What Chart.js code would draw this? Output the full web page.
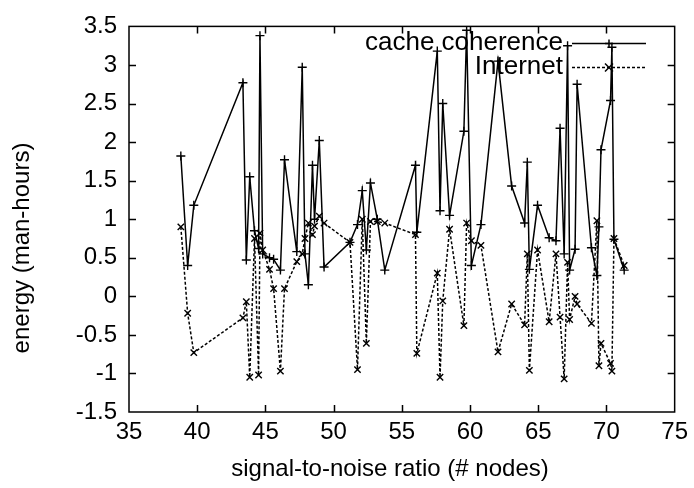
<!DOCTYPE html>
<html><head><meta charset="utf-8">
<script src="https://cdn.jsdelivr.net/npm/chart.js@4/dist/chart.umd.min.js"></script>
<style>html,body{margin:0;padding:0;background:#fff}#wrap{width:694px;height:488px}</style>
</head><body><div id="wrap"><canvas id="c" width="694" height="488"></canvas></div>
<script>
const seriesNames = ["cache coherence", "Internet"];
const xValues = [38.8, 39.3, 39.75, 43.35, 43.6, 43.85, 44.2, 44.5, 44.6, 44.8, 45.3, 45.6, 46.1, 46.4, 47.3, 47.7, 47.9, 48.15, 48.45, 48.6, 48.95, 49.3, 51.2, 51.75, 52.1, 52.4, 52.7, 53.2, 53.75, 56.0, 56.1, 57.6, 57.8, 58.0, 58.5, 59.55, 59.75, 60.1, 60.8, 62.05, 63.05, 64.0, 64.2, 64.35, 64.95, 65.8, 66.3, 66.6, 66.9, 67.15, 67.3, 67.7, 67.85, 68.9, 69.3, 69.45, 69.6, 70.3, 70.4, 70.55, 71.3];
const cacheCoherence = [1.82, 0.40, 1.18, 2.77, 0.47, 1.55, 0.85, 0.62, 3.38, 0.55, 0.50, 0.48, 0.34, 1.77, 0.58, 2.97, 0.55, 0.15, 1.70, 1.00, 2.02, 0.38, 0.70, 0.93, 1.37, 0.60, 1.47, 1.00, 0.34, 1.70, 0.83, 3.18, 1.11, 2.50, 1.05, 2.14, 3.45, 0.40, 0.93, 3.05, 1.43, 0.95, 1.74, 0.35, 1.18, 0.76, 0.72, 2.18, 0.55, 3.25, 0.34, 0.61, 2.75, 0.63, 0.27, 0.90, 1.90, 2.54, 3.23, 0.74, 0.34];
const internet = [0.90, -0.22, -0.73, -0.28, -0.07, -1.05, 0.75, -1.02, 0.82, 0.60, 0.35, 0.10, -0.97, 0.10, 0.45, 0.55, 0.75, 0.95, 0.80, 0.91, 1.04, 0.95, 0.70, -0.95, 1.00, -0.61, 0.97, 0.97, 0.95, 0.80, -0.74, 0.30, -1.05, -0.06, 0.87, -0.38, 0.95, 0.72, 0.66, -0.72, -0.10, -0.37, 0.55, -0.96, 0.60, -0.33, 0.55, -0.27, -1.07, 0.44, -0.30, 0.00, -0.10, -0.35, 0.98, -0.90, -0.61, -0.87, -0.97, 0.75, 0.40];
const xTicks = [35, 40, 45, 50, 55, 60, 65, 70, 75];
const yTicks = [-1.5, -1, -0.5, 0, 0.5, 1, 1.5, 2, 2.5, 3, 3.5];
const xTitle = "signal-to-noise ratio (# nodes)";
const yTitle = "energy (man-hours)";

const FAMILY = "'Liberation Sans', Arial, sans-serif";
const FONT = {family: FAMILY, size: 24};

const framePlugin = {
  id: 'frame',
  afterDatasetsDraw(chart) {
    const {ctx, chartArea: a, scales: {x, y}} = chart;
    ctx.save();
    ctx.strokeStyle = '#000';
    ctx.lineWidth = 1.5;
    ctx.setLineDash([]);
    ctx.strokeRect(a.left, a.top, a.right - a.left, a.bottom - a.top);
    const L = 7;
    ctx.beginPath();
    xTicks.slice(1, -1).forEach(v => {
      const px = Math.round(x.getPixelForValue(v)) + 0.5;
      ctx.moveTo(px, a.bottom); ctx.lineTo(px, a.bottom - L);
      ctx.moveTo(px, a.top); ctx.lineTo(px, a.top + L);
    });
    yTicks.slice(1, -1).forEach(v => {
      const py = Math.round(y.getPixelForValue(v)) + 0.5;
      ctx.moveTo(a.left, py); ctx.lineTo(a.left + L, py);
      ctx.moveTo(a.right, py); ctx.lineTo(a.right - L, py);
    });
    ctx.stroke();
    // axis titles
    ctx.fillStyle = '#000';
    ctx.font = FONT.size + "px " + FAMILY;
    ctx.textAlign = 'center';
    ctx.textBaseline = 'middle';
    ctx.fillText(xTitle, 390, 469);
    ctx.save();
    ctx.translate(22, 248);
    ctx.rotate(-Math.PI / 2);
    ctx.fillText(yTitle, 0, 0);
    ctx.restore();
    // legend (gnuplot style: label, then sample line with point in middle)
    ctx.font = "26px " + FAMILY;
    ctx.textAlign = 'right';
    const rows = [{y: 43, dash: [], style: 'plus'}, {y: 67, dash: [3, 2], style: 'x'}];
    rows.forEach((r, i) => {
      ctx.fillText(seriesNames[i], 563, r.y);
      ctx.lineWidth = 1.5;
      ctx.setLineDash(r.dash);
      ctx.beginPath();
      ctx.moveTo(572, r.y + 0.5); ctx.lineTo(646, r.y + 0.5);
      ctx.stroke();
      ctx.setLineDash([]);
      ctx.beginPath();
      const cx = 609, cy = r.y + 0.5, s = 4;
      if (r.style === 'plus') {
        ctx.moveTo(cx - s, cy); ctx.lineTo(cx + s, cy);
        ctx.moveTo(cx, cy - s); ctx.lineTo(cx, cy + s);
      } else {
        ctx.moveTo(cx - s, cy - s); ctx.lineTo(cx + s, cy + s);
        ctx.moveTo(cx - s, cy + s); ctx.lineTo(cx + s, cy - s);
      }
      ctx.stroke();
    });
    ctx.restore();
  }
};

new Chart(document.getElementById('c'), {
  type: 'scatter',
  data: {
    datasets: [
      {label: seriesNames[0], data: xValues.map((v, i) => ({x: v, y: cacheCoherence[i]})),
       showLine: true, borderColor: '#000', backgroundColor: '#000', borderWidth: 1.5,
       pointStyle: 'cross', pointRadius: 4.5, pointBorderWidth: 1.4, pointBorderColor: '#000'},
      {label: seriesNames[1], data: xValues.map((v, i) => ({x: v, y: internet[i]})),
       showLine: true, borderColor: '#000', backgroundColor: '#000', borderWidth: 1.5, borderDash: [3, 2],
       pointStyle: 'crossRot', pointRadius: 4.5, pointBorderWidth: 1.4, pointBorderColor: '#000'}
    ]
  },
  options: {
    responsive: false, animation: false, devicePixelRatio: 1,
    layout: {padding: {top: 22, right: 17, left: 0, bottom: 0}},
    plugins: {legend: {display: false}, tooltip: {enabled: false}},
    scales: {
      x: {type: 'linear', min: 35, max: 75,
          afterBuildTicks: s => { s.ticks = xTicks.map(v => ({value: v})); },
          afterFit: s => { s.height = 76; },
          grid: {display: false, drawTicks: false}, border: {display: false},
          ticks: {color: '#000', font: FONT, padding: 6, maxRotation: 0, callback: v => String(v)},
          title: {display: false}},
      y: {type: 'linear', min: -1.5, max: 3.5,
          afterBuildTicks: s => { s.ticks = yTicks.map(v => ({value: v})); },
          afterFit: s => { s.width = 129; },
          grid: {display: false, drawTicks: false}, border: {display: false},
          ticks: {color: '#000', font: FONT, padding: 12, callback: v => String(v)},
          title: {display: false}}
    }
  },
  plugins: [framePlugin]
});
</script></body></html>
